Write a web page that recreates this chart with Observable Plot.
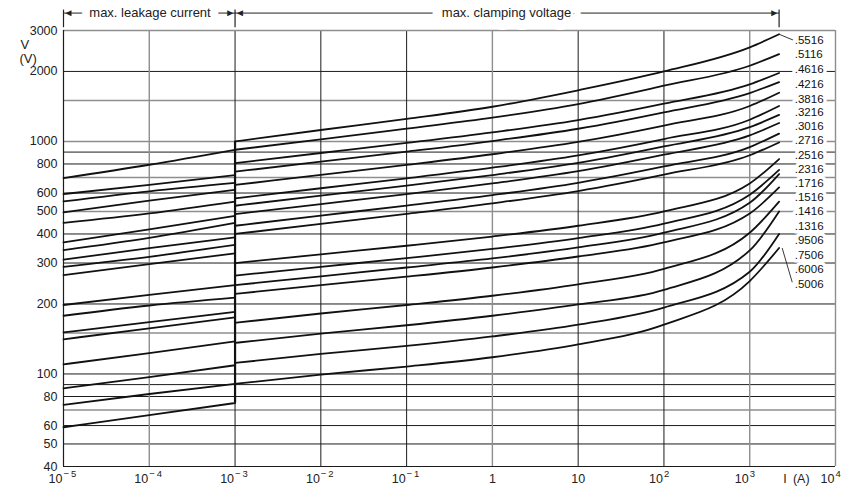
<!DOCTYPE html>
<html><head><meta charset="utf-8">
<script src="https://cdn.jsdelivr.net/npm/d3@7"></script>
<script src="https://cdn.jsdelivr.net/npm/@observablehq/plot@0.6"></script>
<style>
body{margin:0;background:#fff;}
#chart svg{display:block;}
</style></head><body><div id="chart"></div>
<script>
// leakage-current region (I in A, V in V)
const leakI = [1e-5, 1e-4, 1e-3];
const leakV = [
  [696, 794, 921],
  [594, 651, 717],
  [552, 610, 663],
  [495, 556, 620],
  [446, 490, 551],
  [368, 419, 479],
  [341, 385, 446],
  [310, 348, 387],
  [289, 319, 359],
  [266, 297, 330],
  [198, 219, 241],
  [178, 197, 213],
  [151, 167, 185],
  [141, 157, 175],
  [110, 123, 138],
  [86.7, 97, 109],
  [73.6, 82, 90.6],
  [59, 66.5, 75]
];
// clamping-voltage region
const clampI = [1e-3, 1e-2, 1e-1, 1, 10, 100, 1000, 2200];
const clampV = [
  [1000, 1120, 1250, 1410, 1660, 2000, 2540, 2890],
  [921, 1020, 1135, 1265, 1448, 1736, 2116, 2375],
  [807, 892, 985, 1094, 1235, 1453, 1760, 1970],
  [741, 819, 904, 1004, 1134, 1334, 1615, 1800],
  [650, 718, 793, 881, 995, 1170, 1420, 1620],
  [569, 629, 694, 771, 871, 1024, 1240, 1420],
  [529, 585, 645, 717, 809, 952, 1153, 1300],
  [487, 538, 594, 660, 745, 877, 1062, 1200],
  [434, 480, 530, 588, 664, 781, 946, 1080],
  [400, 442, 488, 542, 612, 720, 872, 990],
  [300, 327, 356, 390, 434, 500, 660, 840],
  [265, 289, 315, 345, 384, 443, 590, 754],
  [241, 263, 287, 314, 350, 405, 545, 724],
  [221, 241, 262, 287, 320, 368, 490, 634],
  [166, 182, 198, 217, 243, 283, 405, 551],
  [136, 149, 162, 178, 199, 230, 340, 500],
  [111.5, 122, 132, 145, 163, 193, 275, 400],
  [90.6, 99.4, 107.6, 118, 134, 163, 251, 348]
];
const typeLabels = [".5516", ".5116", ".4616", ".4216", ".3816", ".3216", ".3016", ".2716", ".2516",
  ".2316", ".1716", ".1516", ".1416", ".1316", ".9506", ".7506", ".6006", ".5006"];
const labelV = [2710, 2375, 2034, 1765, 1521, 1332, 1157, 1007, 872, 756, 660, 574, 499, 430, 377, 323, 283, 244];

const yTicks = [3000, 2000, 1000, 800, 600, 500, 400, 300, 200, 100, 80, 60, 50, 40];
const gridDark = [2000, 900, 800, 600, 400, 300, 200, 100, 90, 80, 60, 50];
const gridLight = [1500, 1000, 700, 500, 150, 70];
const vGridDark = [1e-3, 1e-2, 1e-1, 10, 100];
const vGridLight = [1e-4, 1, 1000];
const xTicks = [1e-5, 1e-4, 1e-3, 1e-2, 1e-1, 1, 10, 100, 1000, 10000];
const xTickBase = ["10", "10", "10", "10", "10", "1", "10", "10", "10", "10"];
const xTickExp = ["\u2212\u20095", "\u2212\u20094", "\u2212\u20093", "\u2212\u20092", "\u2212\u20091", "", "", "2", "3", "4"];

const leakRows = leakV.flatMap((vs, k) => vs.map((v, i) => ({I: leakI[i], V: v, id: "L" + k})));
const clampRows = clampV.flatMap((vs, k) => vs.map((v, i) => ({I: clampI[i], V: v, id: "C" + k})));
const tickRows = xTicks.map((t, i) => ({t, base: xTickBase[i], exp: xTickExp[i]}));
const labelRows = typeLabels.map((s, i) => ({s, v: labelV[i]}));
const jumpLow = d3.min(leakV, d => d[d.length - 1]);
const jumpHigh = d3.max(clampV, d => d[0]);
const lastI = clampI[clampI.length - 1];

const DARK = "#1c1c1c", LIGHT = "#8e8e8e";
const font = "'Liberation Sans', Arial, Helvetica, sans-serif";

const chart = Plot.plot({
  width: 844, height: 491,
  marginLeft: 63, marginRight: 9, marginTop: 30, marginBottom: 25,
  style: {fontFamily: font, fontSize: "12px", background: "#fff", color: "#111", overflow: "visible"},
  x: {type: "log", domain: [1e-5, 1e4], axis: null},
  y: {type: "log", domain: [40, 3000], axis: null},
  marks: [
    Plot.ruleY(gridLight, {stroke: LIGHT, strokeWidth: 1.4}),
    Plot.ruleY(gridDark, {stroke: DARK, strokeWidth: 1}),
    Plot.ruleX(vGridLight, {stroke: LIGHT, strokeWidth: 1.4}),
    Plot.ruleX(vGridDark, {stroke: DARK, strokeWidth: 1}),
    Plot.ruleY([3000], {stroke: LIGHT, strokeWidth: 1.4}),
    Plot.ruleX([1e4], {stroke: LIGHT, strokeWidth: 1.4}),
    Plot.ruleY([40], {stroke: DARK, strokeWidth: 1.2}),
    Plot.ruleX([1e-5], {stroke: DARK, strokeWidth: 1.2}),
    Plot.ruleX([1e-3], {y1: jumpLow, y2: jumpHigh, stroke: "#111", strokeWidth: 2.2}),
    Plot.line(leakRows, {x: "I", y: "V", z: "id", stroke: "#111", strokeWidth: 1.8, curve: "monotone-x"}),
    Plot.line(clampRows, {x: "I", y: "V", z: "id", stroke: "#111", strokeWidth: 1.8, curve: "monotone-x"}),
    // leader lines to labels
    Plot.link([0], {x1: lastI, y1: 2890, x2: 3200, y2: 2730, stroke: "#222", strokeWidth: 0.9}),
    Plot.link([0], {x1: 2390, y1: 348, x2: 3130, y2: 248, stroke: "#222", strokeWidth: 0.9}),
    Plot.text(labelRows, {x: () => 3350, y: "v", text: "s", textAnchor: "start", fontSize: 11.5, fill: "#111", stroke: "#fff", strokeWidth: 7}),
    // y tick labels
    Plot.text(yTicks, {frameAnchor: "left", y: d => d, text: d => String(d), textAnchor: "end", dx: -6, fontSize: 12.5, fill: "#222"}),
    Plot.text(["V"], {frameAnchor: "top-left", text: d => d, dx: -43, dy: 9, fontSize: 13, fill: "#222"}),
    Plot.text(["(V)"], {frameAnchor: "top-left", text: d => d, dx: -44, dy: 23, fontSize: 13, fill: "#222"}),
    // x tick labels
    Plot.text(tickRows.filter(d => d.exp), {x: "t", frameAnchor: "bottom", text: "base", textAnchor: "end", dx: -1, dy: 16, fontSize: 12.5, fill: "#222"}),
    Plot.text(tickRows.filter(d => d.exp), {x: "t", frameAnchor: "bottom", text: "exp", textAnchor: "start", dx: 0, dy: 10, fontSize: 9.5, fill: "#222"}),
    Plot.text(tickRows.filter(d => !d.exp), {x: "t", frameAnchor: "bottom", text: "base", dy: 16, fontSize: 12.5, fill: "#222"}),
    Plot.text(["I\u2002(A)"], {x: () => 3500, frameAnchor: "bottom", text: d => d, dy: 16, fontSize: 12.5, fill: "#222"}),
    // top annotation
    Plot.link([0], {x1: 1e-5, x2: lastI, y1: 3565, y2: 3565, stroke: "#222", strokeWidth: 1}),
    Plot.text(["max. leakage current"], {x: () => 1.02e-4, y: () => 3565, text: d => d, fontSize: 13, fill: "#222", stroke: "#fff", strokeWidth: 16}),
    Plot.text(["max. clamping voltage"], {x: () => 1.46, y: () => 3565, text: d => d, fontSize: 13, fill: "#222", stroke: "#fff", strokeWidth: 20}),
    Plot.ruleX([1e-5, 1e-3, lastI], {y1: 3083, y2: 3672, stroke: "#222", strokeWidth: 1.2}),
    Plot.text([1e-3, lastI], {x: d => d, y: () => 3565, text: () => "\u25BA", textAnchor: "end", fontSize: 10, fill: "#222"}),
    Plot.text([1e-5, 1e-3], {x: d => d, y: () => 3565, text: () => "\u25C4", textAnchor: "start", fontSize: 10, fill: "#222"})
  ]
});
document.getElementById("chart").appendChild(chart);
</script>
</body></html>
